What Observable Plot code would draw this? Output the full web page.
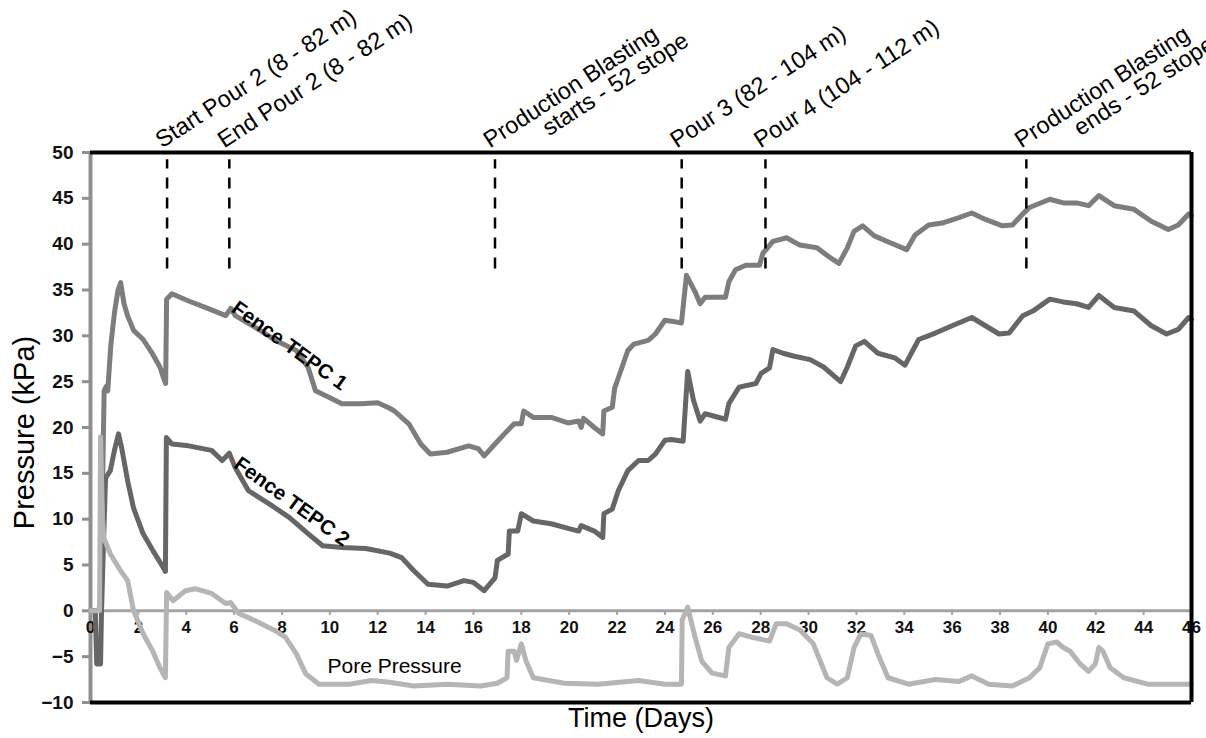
<!DOCTYPE html>
<html><head><meta charset="utf-8">
<script src="https://cdn.jsdelivr.net/npm/d3@7"></script>
<script src="https://cdn.jsdelivr.net/npm/@observablehq/plot@0.6"></script>
<style>html,body{margin:0;padding:0;background:#fff}svg{display:block}</style>
</head><body><div id="chart"></div>
<script>
// ---- Data ----
const tepc1Days = [0,0.35,0.45,0.52,0.57,0.66,0.72,0.85,1.0,1.15,1.26,1.4,1.55,1.8,2.2,2.6,2.9,3.08,3.14,3.18,3.4,4.1,4.9,5.65,5.86,6.05,6.9,7.74,8.6,9.1,9.4,9.96,10.5,11.3,12.0,12.5,12.7,13.3,13.8,14.2,14.9,15.8,16.2,16.45,16.9,17.4,17.7,18.0,18.1,18.5,19.25,19.95,20.4,20.5,20.6,21.05,21.4,21.45,21.8,21.9,22.05,22.45,22.7,23.3,23.6,24.0,24.28,24.69,24.9,25.26,25.47,25.68,26.53,26.67,26.95,27.38,27.95,28.09,28.51,29.08,29.64,30.35,30.92,31.27,31.62,31.9,32.26,32.75,33.46,34.1,34.45,35.02,35.58,36.29,36.82,37.39,38.1,38.52,38.95,39.23,40.08,40.64,41.2,41.7,42.13,42.77,43.6,44.32,45.03,45.45,45.88,46];
const tepc1Vals = [0,0,2,16,24,24.5,24,29,32.5,35,35.8,33.5,32.2,30.6,29.6,28.0,26.6,25.2,24.8,34.0,34.6,33.8,33.0,32.2,33.0,32.2,30.9,29.5,28.4,26.5,24.0,23.3,22.6,22.6,22.7,22.1,21.8,20.4,18.2,17.1,17.3,18.0,17.7,16.9,18.2,19.6,20.4,20.4,21.8,21.1,21.1,20.5,20.7,20.0,21.0,20.0,19.3,21.8,22.2,24.3,25.4,28.4,29.1,29.5,30.2,31.7,31.6,31.4,36.6,34.8,33.5,34.2,34.2,35.9,37.2,37.7,37.7,39.0,40.3,40.7,39.9,39.6,38.5,37.9,39.6,41.4,42.0,40.9,40.1,39.4,41.0,42.1,42.3,42.9,43.4,42.7,42.0,42.1,43.3,44.0,44.9,44.5,44.5,44.2,45.3,44.2,43.8,42.5,41.6,42.1,43.3,43.1];

const tepc2Days = [0,0.2,0.26,0.42,0.46,0.55,0.63,0.83,1.0,1.17,1.3,1.55,1.8,2.2,2.6,3.0,3.13,3.17,3.4,4.1,5.06,5.5,5.8,6.05,6.6,7.45,8.3,9.1,9.7,10.5,11.5,12.5,13.0,13.5,14.1,14.9,15.6,16.0,16.45,16.9,17.0,17.45,17.5,17.85,18.0,18.5,19.25,19.95,20.4,20.5,21.05,21.4,21.45,21.8,22.05,22.45,22.9,23.3,23.6,24.0,24.27,24.76,24.95,25.19,25.47,25.68,26.53,26.67,27.1,27.8,28.02,28.37,28.51,28.94,29.36,30.07,30.63,31.34,31.62,31.97,32.33,32.9,33.6,34.03,34.6,35.3,36.0,36.82,37.39,37.96,38.38,38.95,39.37,40.08,40.64,41.2,41.7,42.13,42.77,43.6,44.32,44.96,45.45,45.88,46];
const tepc2Vals = [0,0,-5.8,-5.8,0,8,14.5,15.3,17.5,19.3,17.8,14.2,11.2,8.4,6.6,4.9,4.3,18.9,18.2,18.0,17.5,16.4,17.2,15.6,13.1,11.7,10.2,8.4,7.1,6.9,6.8,6.3,5.8,4.4,2.9,2.7,3.3,3.1,2.2,3.6,5.5,6.2,8.7,8.7,10.6,9.8,9.5,9.0,8.7,9.3,8.7,8.0,10.6,11.1,13.1,15.3,16.4,16.4,17.1,18.6,18.7,18.5,26.1,23.0,20.7,21.5,20.9,22.6,24.4,24.8,25.9,26.5,28.5,28.1,27.8,27.4,26.6,25.0,26.6,28.9,29.4,28.1,27.6,26.8,29.6,30.3,31.1,32.0,31.1,30.2,30.3,32.2,32.7,34.0,33.7,33.5,33.1,34.4,33.1,32.7,31.1,30.2,30.7,32.0,31.8];

const poreDays = [0,0.38,0.42,0.5,0.55,0.83,1.25,1.55,1.8,2.2,2.6,2.9,3.13,3.18,3.45,3.97,4.4,5.06,5.65,5.85,6.2,6.9,7.74,8.15,8.6,9.0,9.55,10.8,11.75,12.5,13.5,14.9,16.3,17.0,17.4,17.45,17.7,17.8,18.0,18.2,18.5,19.8,21.2,22.9,24.0,24.69,24.72,24.95,25.26,25.54,25.97,26.53,26.67,27.1,27.66,28.37,28.65,29.08,29.64,30.2,30.49,30.77,31.2,31.62,31.9,32.19,32.61,32.9,33.32,34.17,35.3,36.29,36.82,37.53,38.52,39.23,39.66,40.0,40.37,40.64,40.93,41.35,41.7,41.98,42.13,42.3,42.6,43.17,44.16,46];
const poreVals = [0,0,19.0,10,8,6.2,4.4,3.3,0,-2.5,-4.4,-6.2,-7.3,2.0,1.1,2.2,2.4,1.9,0.8,0.9,-0.3,-1.1,-2.2,-2.9,-4.7,-6.9,-8.0,-8.0,-7.6,-7.8,-8.2,-8.0,-8.2,-7.9,-7.3,-4.4,-4.4,-5.4,-3.6,-5.5,-7.3,-7.9,-8.0,-7.6,-8.0,-8.0,-1,0.4,-2.9,-5.5,-6.8,-7.1,-4.0,-2.5,-2.9,-3.3,-1.4,-1.4,-2.1,-3.6,-5.5,-7.3,-8.0,-7.3,-4.0,-2.5,-2.7,-4.7,-7.3,-8.0,-7.5,-7.7,-7.1,-8.0,-8.2,-7.3,-6.2,-3.6,-3.4,-4.0,-4.4,-5.8,-6.6,-5.8,-4.0,-4.4,-6.2,-7.3,-8.0,-8.0];

const xTicks = [0,2,4,6,8,10,12,14,16,18,20,22,24,26,28,30,32,34,36,38,40,42,44,46];
const yTicks = [-10,-5,0,5,10,15,20,25,30,35,40,45,50];

// event markers (day) and their rotated labels
const eventDays = [3.2, 5.8, 16.9, 24.7, 28.2, 39.1];
const annoDays  = [3.2, 5.8, 16.9, 16.9, 24.7, 28.2, 39.1, 39.1];
const annoText  = ["Start Pour 2 (8 - 82 m)", "End Pour 2 (8 - 82 m)", "Production Blasting", "starts - 52 stope",
                   "Pour 3 (82 - 104 m)", "Pour 4 (104 - 112 m)", "Production Blasting", "ends - 52 stope"];
const annoLine  = [0, 0, 0, 1, 0, 0, 0, 1];

const seriesNames = ["Fence TEPC 1", "Fence TEPC 2", "Pore Pressure"];
const labelDays = [6.2, 6.3, 9.9];
const labelVals = [34.0, 17.0, -6.0];

// ---- Build tables ----
const tepc1 = tepc1Days.map((d, i) => ({day: d, p: tepc1Vals[i]}));
const tepc2 = tepc2Days.map((d, i) => ({day: d, p: tepc2Vals[i]}));
const pore  = poreDays.map((d, i) => ({day: d, p: poreVals[i]}));
const annos = annoDays.map((d, i) => ({day: d, text: annoText[i], line: annoLine[i]}));
const labels = seriesNames.map((s, i) => ({day: labelDays[i], p: labelVals[i], text: s}));

const FONT = "'Liberation Sans', Arial, Helvetica, sans-serif";
const AXIS_GRAY = "#8f8f8f";

const chart = Plot.plot({
  width: 1206, height: 738,
  marginLeft: 90, marginRight: 15, marginTop: 152, marginBottom: 36,
  style: {fontFamily: FONT, background: "#fff", overflow: "visible"},
  x: {domain: [0, 46], axis: null},
  y: {domain: [-10, 50]},
  marks: [
    // left gray axis line & zero line
    Plot.ruleY([0], {stroke: "#a3a3a3", strokeWidth: 3}),
    Plot.ruleX([0], {stroke: AXIS_GRAY, strokeWidth: 4}),
    // x tick marks on zero line
    Plot.ruleX(xTicks, {x: d => d, y1: 0, y2: -0.5, stroke: "#a3a3a3", strokeWidth: 2}),
    // y axis
    Plot.axisY(yTicks, {tickSize: 8, tickPadding: 9, fontSize: 19, fontWeight: "bold", stroke: AXIS_GRAY, strokeWidth: 3, fill: "#111", label: null}),
    // x tick labels at the zero line
    Plot.text(xTicks, {x: d => d, y: 0, text: d => String(d), lineAnchor: "top", dy: 10, fontSize: 17, fontWeight: "bold", fill: "#111"}),
    // series
    Plot.line(tepc1, {x: "day", y: "p", stroke: "#7d7d7d", strokeWidth: 5, strokeLinejoin: "round"}),
    Plot.line(tepc2, {x: "day", y: "p", stroke: "#666666", strokeWidth: 5, strokeLinejoin: "round"}),
    Plot.line(pore,  {x: "day", y: "p", stroke: "#b5b5b5", strokeWidth: 5, strokeLinejoin: "round"}),
    // frame (black top/right/bottom)
    Plot.ruleY([50], {stroke: "#000", strokeWidth: 4}),
    Plot.ruleY([-10], {stroke: "#000", strokeWidth: 4}),
    Plot.ruleX([46], {stroke: "#000", strokeWidth: 4}),
    // event dashed markers
    Plot.ruleX(eventDays, {x: d => d, y1: 37.3, y2: 49.2, stroke: "#000", strokeWidth: 2.5, strokeDasharray: "11,9"}),
    // rotated event labels
    Plot.text(annos.filter(a => a.line === 0), {x: "day", y: 50, text: "text", rotate: -33, textAnchor: "start", lineAnchor: "bottom", dx: -5, dy: -4, fontSize: 23.5, fill: "#000"}),
    Plot.text(annos.filter(a => a.line === 1), {x: "day", y: 50, text: "text", rotate: -33, textAnchor: "start", lineAnchor: "bottom", dx: 54, dy: -16, fontSize: 23.5, fill: "#000"}),
    // inline series labels
    Plot.text(labels.slice(0, 2), {x: "day", y: "p", text: "text", rotate: 36, textAnchor: "start", lineAnchor: "top", fontSize: 20.5, fontWeight: "bold", fill: "#000"}),
    Plot.text(labels.slice(2), {x: "day", y: "p", text: "text", textAnchor: "start", lineAnchor: "middle", fontSize: 21, fill: "#000"}),
    // axis titles
    Plot.text(["Pressure (kPa)"], {frameAnchor: "left", rotate: -90, textAnchor: "middle", dx: -66, dy: 5, fontSize: 29, fill: "#000"}),
    Plot.text(["Time (Days)"], {frameAnchor: "bottom", textAnchor: "middle", dy: 24, fontSize: 27, fill: "#000"})
  ]
});
document.getElementById("chart").appendChild(chart);
</script>
</body></html>
